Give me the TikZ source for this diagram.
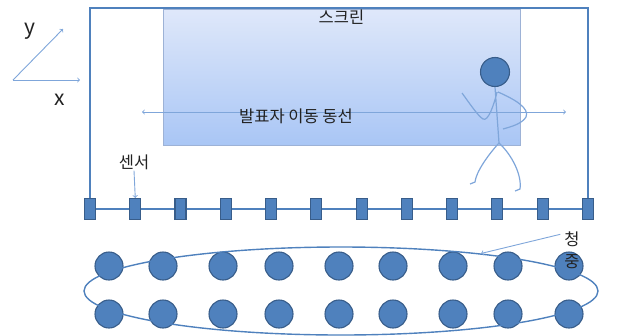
\documentclass[tikz,border=0pt]{standalone}
\usepackage{fontspec}
\setmainfont{Noto Sans CJK KR}
\usetikzlibrary{shapes.geometric}

\definecolor{officeblue}{HTML}{4F81BD}
\definecolor{officeline}{HTML}{385D8A}
\definecolor{thinblue}{HTML}{7FA6DA}
\definecolor{scrtop}{HTML}{DFE8FA}
\definecolor{scrbot}{HTML}{A9C6F5}
\definecolor{scredge}{HTML}{9DB2D6}
\definecolor{txt}{HTML}{222222}

\begin{document}
\begin{tikzpicture}[x=1pt,y=-1pt,
  every node/.style={text=txt},
  frame/.style={draw=officeblue,line width=1.6pt},
  thin/.style={draw=thinblue,line width=0.9pt},
  sensor/.style={rectangle,draw=officeline,fill=officeblue,line width=1.1pt,
    minimum width=11pt,minimum height=21pt,inner sep=0pt},
  seat/.style={circle,draw=officeline,fill=officeblue,line width=1.1pt,
    minimum size=28pt,inner sep=0pt},
  label/.style={font=\fontsize{16.5}{18}\selectfont,inner sep=1pt}]

\useasboundingbox (0,0) rectangle (620,335);

% screen
\node[rectangle,draw=scredge,line width=0.8pt,top color=scrtop,bottom color=scrbot,
  minimum width=357pt,minimum height=136pt,inner sep=0pt] (scr) at (341.5,77) {};
\node[label,below=0pt] (scrname) at (scr.north) {스크린};

% sensors
\foreach \i in {1,...,12}
  \node[sensor] (s\i) at ({90+45.27*(\i-1)},209) {};
\foreach \i [evaluate=\i as \j using int(\i+1)] in {1,...,11}
  \draw[frame,line width=1.2pt] (s\i.east) -- (s\j.west);
\coordinate (ftl) at (90,8);
\coordinate (ftr) at (588,8);
\draw[frame] (s1.north) -- (ftl) -- (ftr) -- (s12.north);

\node[label] (sname) at (134,162) {센서};
\draw[thin,->] (sname.south) -- (s2.north);

% axes
\coordinate (o) at (13,80);
\coordinate (xe) at (80,80);
\coordinate (ye) at (63,29);
\draw[thin,->] (o) -- (xe);
\draw[thin,->] (o) -- (ye);
\node[font=\fontsize{21}{21}\selectfont] (xlab) at (60,100) {x};
\node[font=\fontsize{21}{21}\selectfont] (ylab) at (30,31) {y};

% walking path
\coordinate (pl) at (142,112);
\coordinate (pr) at (566,112);
\draw[thin,<->] (pl) -- (pr);
\node[label] (path) at (296,116) {발표자 이동 동선};

% presenter
\node[seat,minimum size=29pt] (head) at (495,72) {};
\coordinate (hip) at (499,143);
\draw[thin,line width=1.2pt]
  (head.south) -- (hip)
  (497,92) .. controls (494,105) and (488,122) .. (483,119)
           .. controls (478,116) and (470,104) .. (462,93)
  (498,92) .. controls (514,99) and (530,108) .. (526,117)
           .. controls (522,124) and (510,127) .. (503,129)
  (hip) .. controls (488,155) and (476,172) .. (475,182) -- (470,184)
  (hip) .. controls (512,155) and (522,175) .. (520,189) -- (515,191);

% audience
\foreach \x [count=\k] in {109,163,223,279,339,393,453,508,569} {
  \node[seat] (a\k) at (\x,266) {};
  \node[seat] (b\k) at (\x,314) {};
}
\node[ellipse,draw=officeblue,line width=1.4pt,minimum width=514pt,
  minimum height=88pt,inner sep=0pt] (crowd) at (341,291) {};
\node[label,align=center,font=\fontsize{16.5}{22}\selectfont] (cname) at (572,250) {청\\중};
\draw[thin,->] (cname.north west) ++(-3,4) coordinate (cstart) (cstart) -- (crowd.15);

\end{tikzpicture}
\end{document}
